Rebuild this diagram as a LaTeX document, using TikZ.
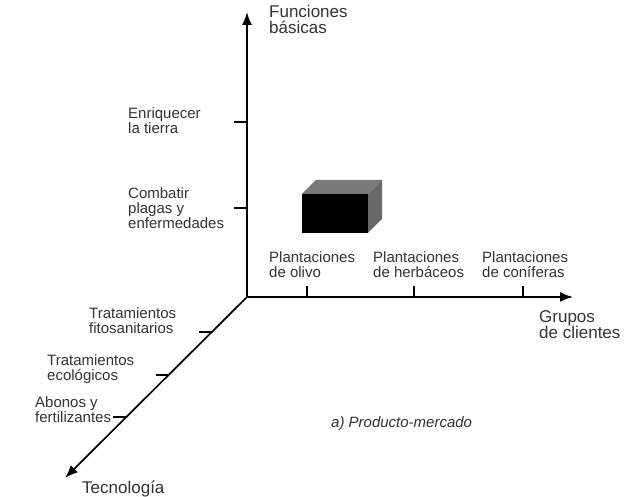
\documentclass[tikz,border=0pt]{standalone}
\usepackage{fontspec}
\setmainfont{Liberation Sans}
\usetikzlibrary{arrows.meta}
\definecolor{txt}{HTML}{333333}
\definecolor{boxside}{HTML}{7A7A7A}
\begin{document}
\begin{tikzpicture}[x=1pt,y=-1pt,
  axis/.style={line width=1.7pt,-{Latex[length=13pt,width=10pt]}},
  tick/.style={line width=1.6pt},
  ticklabel/.style={anchor=north west,inner sep=0pt,align=left,text=txt,font=\fontsize{15}{15}\selectfont},
  axislabel/.style={anchor=north west,inner sep=0pt,align=left,text=txt,font=\fontsize{17}{16}\selectfont}]
\useasboundingbox (0,0) rectangle (625,497);
% axes
\coordinate (O) at (247,297);
\coordinate (F) at (247,12);
\coordinate (G) at (573,297);
\coordinate (T) at (65,478);
\draw[axis] (O) -- (F);
\draw[axis] (O) -- (G);
\draw[axis] (O) -- (T);
% vertical ticks
\coordinate (v1) at (247,122); \coordinate (v1e) at (234,122);
\coordinate (v2) at (247,208); \coordinate (v2e) at (234,208);
\draw[tick] (v1) -- (v1e);
\draw[tick] (v2) -- (v2e);
% horizontal ticks
\coordinate (h1) at (307,297); \coordinate (h1e) at (307,286);
\coordinate (h2) at (414,297); \coordinate (h2e) at (414,286);
\coordinate (h3) at (523,297); \coordinate (h3e) at (523,286);
\draw[tick] (h1) -- (h1e);
\draw[tick] (h2) -- (h2e);
\draw[tick] (h3) -- (h3e);
% diagonal ticks
\coordinate (d1) at (212,332); \coordinate (d1e) at (199,332);
\coordinate (d2) at (169,375); \coordinate (d2e) at (156,375);
\coordinate (d3) at (127,417); \coordinate (d3e) at (113,417);
\draw[tick] (d1) -- (d1e);
\draw[tick] (d2) -- (d2e);
\draw[tick] (d3) -- (d3e);
% axis labels
\node[axislabel] (lf) at (269,5) {Funciones\\básicas};
\node[axislabel] (lg) at (539,310) {Grupos\\de clientes};
\node[axislabel] (lt) at (82,481) {Tecnología};
% tick labels
\node[ticklabel] (l1) at (128,107) {Enriquecer\\la tierra};
\node[ticklabel] (l2) at (128,187) {Combatir\\plagas y\\enfermedades};
\node[ticklabel] (p1) at (269,251) {Plantaciones\\de olivo};
\node[ticklabel] (p2) at (373,251) {Plantaciones\\de herbáceos};
\node[ticklabel] (p3) at (482,251) {Plantaciones\\de coníferas};
\node[ticklabel] (t1) at (89,307) {Tratamientos\\fitosanitarios};
\node[ticklabel] (t2) at (47,354) {Tratamientos\\ecológicos};
\node[ticklabel] (t3) at (35,396) {Abonos y\\fertilizantes};
% caption
\node[anchor=north west,inner sep=0pt,text=txt,font=\fontsize{15}{16}\selectfont\itshape] (cap) at (331,416) {a) Producto-mercado};
% box
\fill[boxside] (302,194) -- (316,180) -- (382,180) -- (368,194) -- cycle;
\fill[boxside!85!black] (368,194) -- (382,180) -- (382,219) -- (368,233) -- cycle;
\fill[black] (302,194) rectangle (368,233);
\end{tikzpicture}
\end{document}
